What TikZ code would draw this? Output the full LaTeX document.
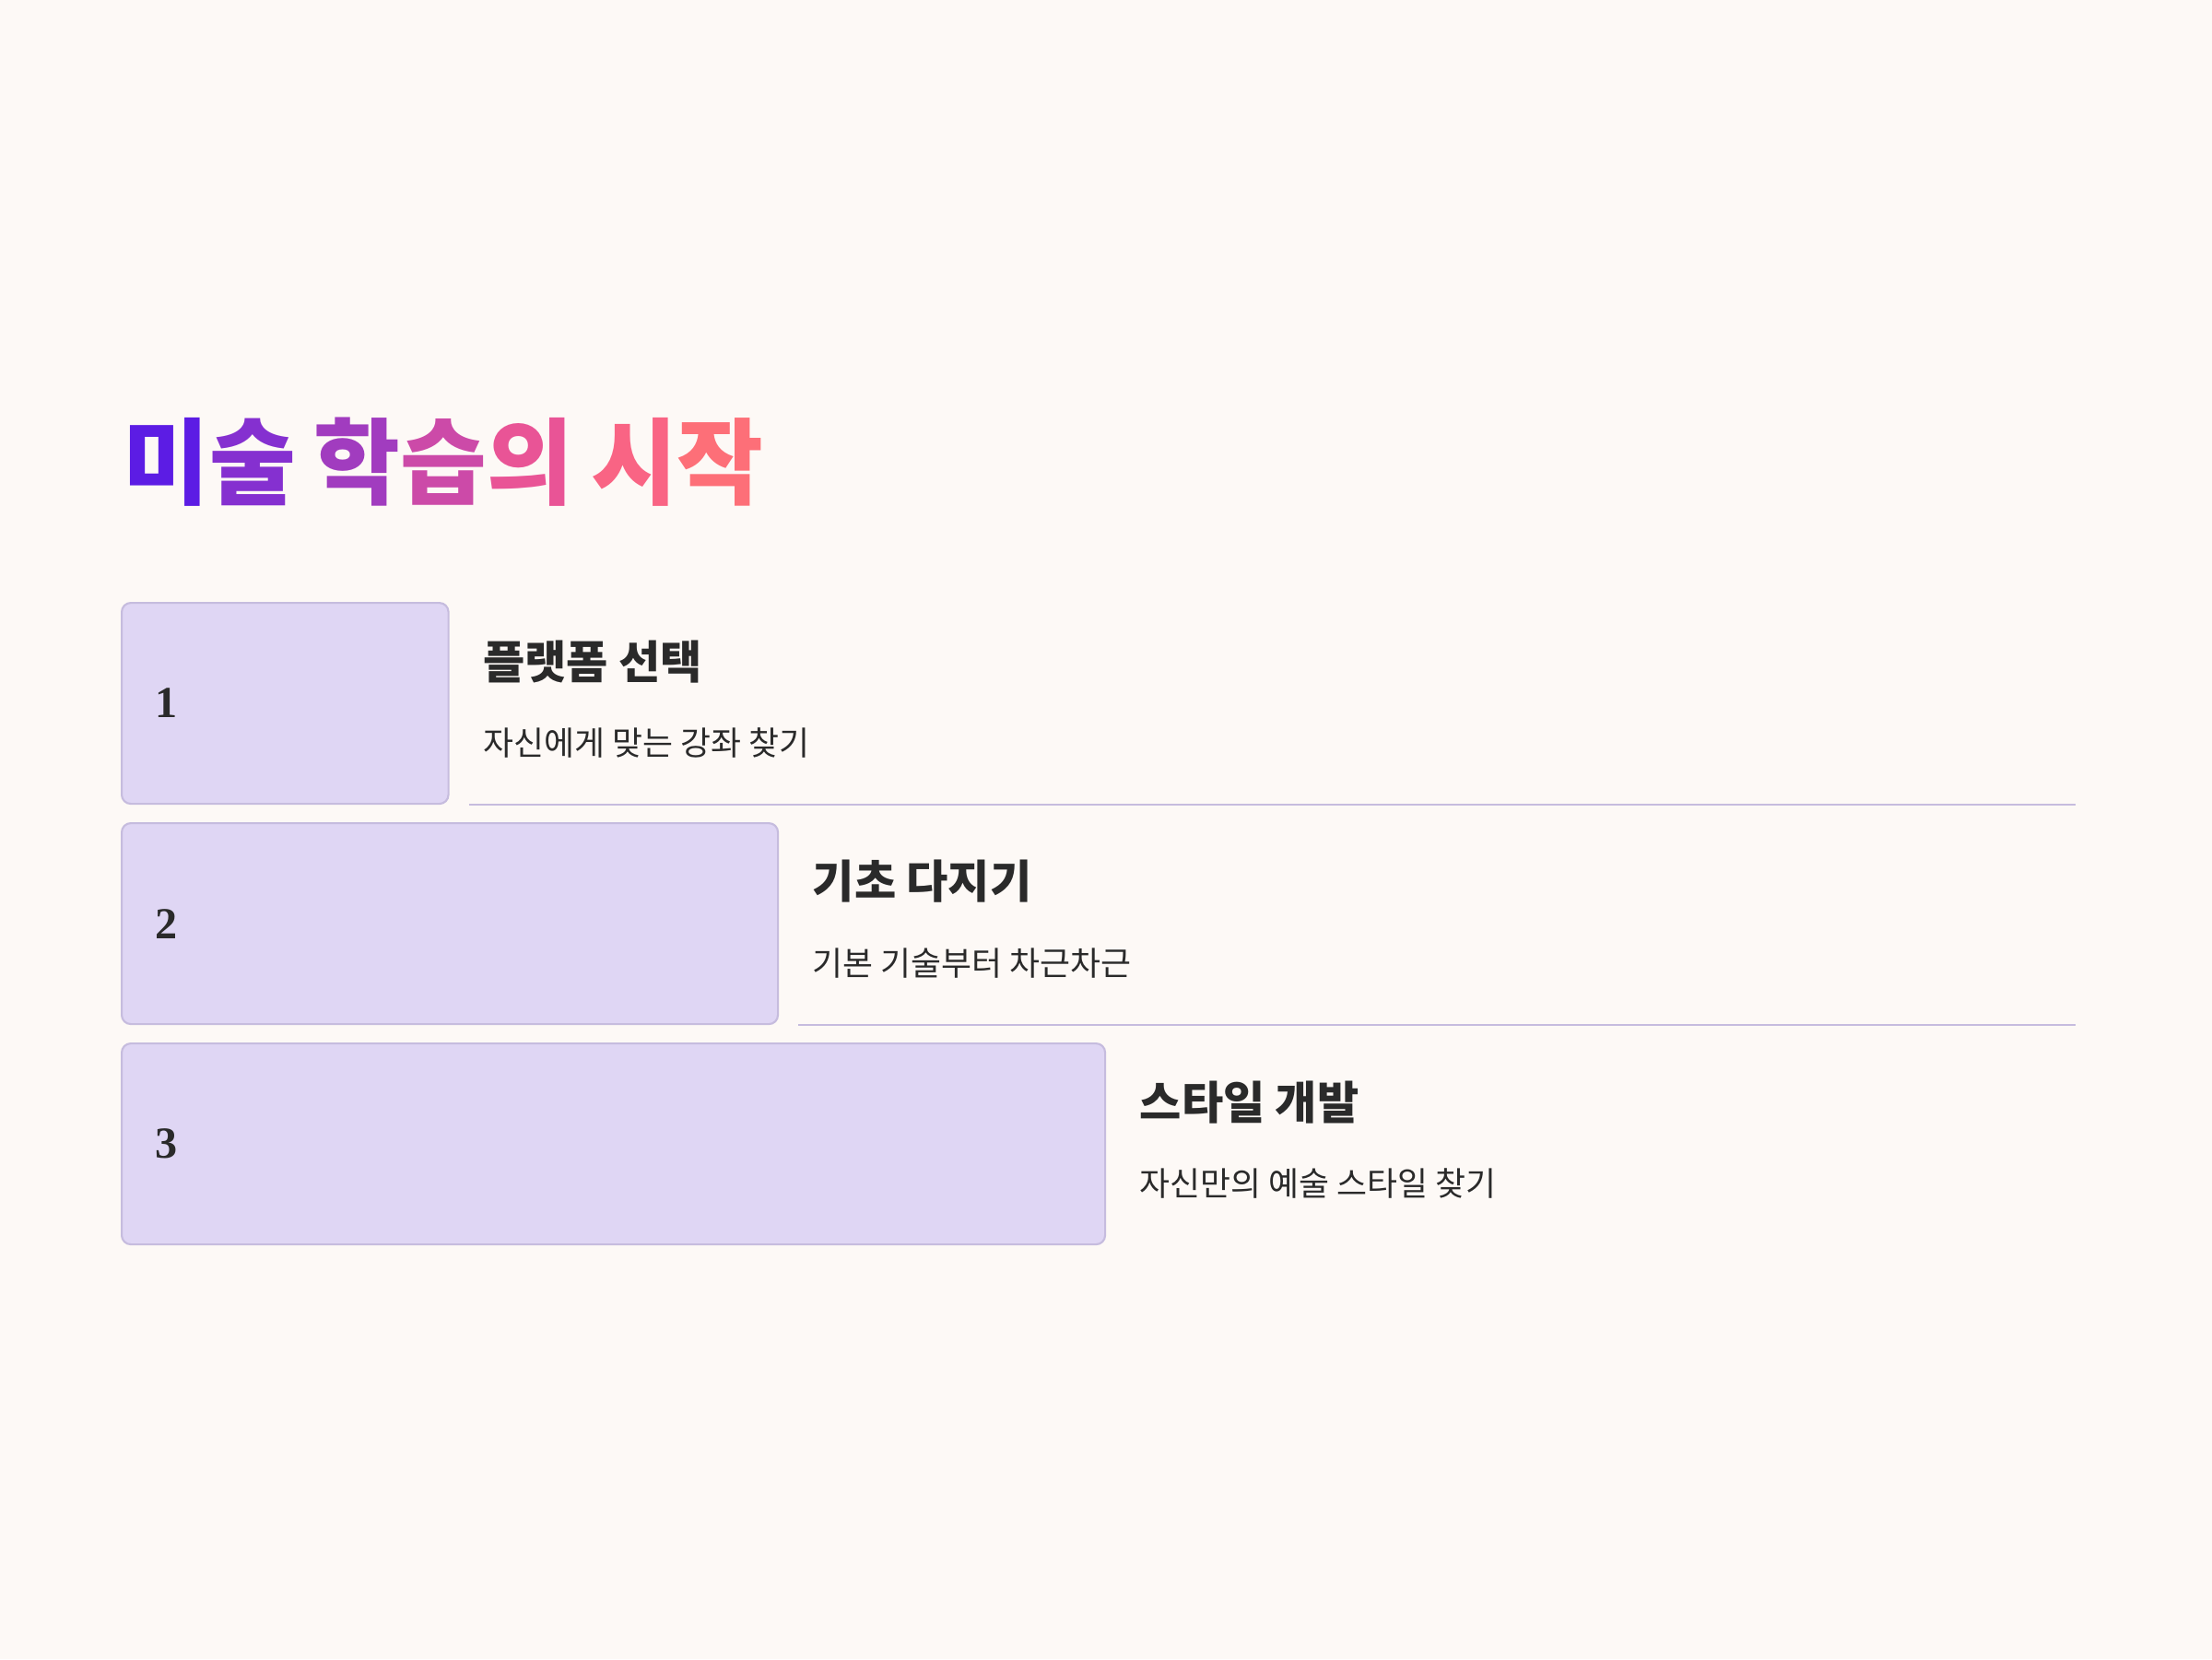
\documentclass[tikz,border=0pt]{standalone}
\usepackage{fontspec}
\usepackage{xcolor}
\usepackage{tikz}
\usetikzlibrary{positioning}
\newfontfamily\krfont{Noto Sans CJK KR}
\newfontfamily\numfont{Liberation Serif}
\definecolor{paper}{HTML}{FDF9F6}
\definecolor{boxfill}{HTML}{DFD6F4}
\definecolor{boxline}{HTML}{C6BCDE}
\definecolor{ink}{HTML}{2A2A2A}
\definecolor{grA}{HTML}{5C1CE4}
\definecolor{grB}{HTML}{8530D0}
\definecolor{grC}{HTML}{A13CBF}
\definecolor{grD}{HTML}{CC4AA8}
\definecolor{grE}{HTML}{E95496}
\definecolor{grF}{HTML}{F96484}
\definecolor{grG}{HTML}{FD6F78}

\begin{document}
\begin{tikzpicture}[
    stepbox/.style={draw=boxline, fill=boxfill, line width=0.6pt, rounded corners=2.8pt,
        minimum height=2.18cm, inner sep=0pt, anchor=north west},
    numlabel/.style={font=\numfont\bfseries\fontsize{13.7}{16}\selectfont, text=ink, inner sep=0pt},
    steptitle/.style={font=\krfont\bfseries\fontsize{14}{17}\selectfont, text=ink, inner sep=0pt},
    stepnote/.style={font=\krfont\fontsize{10.2}{12}\selectfont, text=ink, inner sep=0pt},
    sepline/.style={draw=boxline, line width=0.6pt}]

    % page
    \fill[paper] (0,0) rectangle (24,-18);
    \coordinate (rim) at (22.52,0);

    % title
    \node[anchor=west, inner sep=0pt,
        font=\krfont\bfseries\fontsize{29}{35}\selectfont\addfontfeature{LetterSpace=-4}] (title) at (1.33,-5.01)
        {\textcolor{grA}{미}\textcolor{grB}{술} \textcolor{grC}{학}\textcolor{grD}{습}\textcolor{grE}{의} \textcolor{grF}{시}\textcolor{grG}{작}};

    % steps
    \node[stepbox, minimum width=3.545cm] (box1) at (1.31,-6.53) {};
    \node[stepbox, minimum width=7.12cm] (box2) at (1.31,-8.92) {};
    \node[stepbox, minimum width=10.67cm] (box3) at (1.31,-11.31) {};

    \node[numlabel, right=0.37cm of box1.west] (num1) {1};
    \node[numlabel, right=0.37cm of box2.west] (num2) {2};
    \node[numlabel, right=0.37cm of box3.west] (num3) {3};

    \node[steptitle, right=0.36cm of box1.east, yshift=0.455cm] (head1) {플랫폼 선택};
    \node[stepnote, right=0.36cm of box1.east, yshift=-0.43cm] (note1) {자신에게 맞는 강좌 찾기};
    \node[steptitle, right=0.36cm of box2.east, yshift=0.455cm] (head2) {기초 다지기};
    \node[stepnote, right=0.36cm of box2.east, yshift=-0.43cm] (note2) {기본 기술부터 차근차근};
    \node[steptitle, right=0.36cm of box3.east, yshift=0.455cm] (head3) {스타일 개발};
    \node[stepnote, right=0.36cm of box3.east, yshift=-0.43cm] (note3) {자신만의 예술 스타일 찾기};

    % separators
    \coordinate[right=0.21cm of box1.south east] (sep1);
    \coordinate[right=0.21cm of box2.south east] (sep2);
    \draw[sepline] (sep1) -- (sep1 -| rim);
    \draw[sepline] (sep2) -- (sep2 -| rim);
\end{tikzpicture}
\end{document}
